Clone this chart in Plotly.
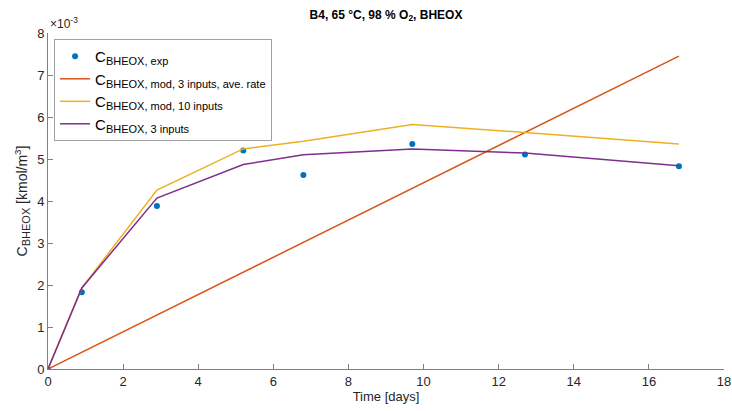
import plotly.graph_objects as go

# Time points (days)
t_exp = [0, 0.9, 2.9, 5.2, 6.8, 9.7, 12.7, 16.8]
# Measured BHEOX concentration [kmol/m3]
c_exp = [0.0, 1.83e-3, 3.88e-3, 5.20e-3, 4.62e-3, 5.36e-3, 5.11e-3, 4.83e-3]

# Model, 3 inputs, averaged rate (straight line)
t_avg = [0, 16.8]
c_avg = [0.0, 7.45e-3]

# Model, 10 inputs
t_mod10 = [0, 0.9, 2.9, 5.2, 6.8, 9.7, 12.7, 16.8]
c_mod10 = [0.0, 1.93e-3, 4.26e-3, 5.24e-3, 5.42e-3, 5.82e-3, 5.63e-3, 5.36e-3]

# Model, 3 inputs
t_mod3 = [0, 0.9, 2.9, 5.2, 6.8, 9.7, 12.7, 16.8]
c_mod3 = [0.0, 1.93e-3, 4.07e-3, 4.87e-3, 5.10e-3, 5.24e-3, 5.14e-3, 4.84e-3]

x_ticks = [0, 2, 4, 6, 8, 10, 12, 14, 16, 18]
y_ticks = [0, 1e-3, 2e-3, 3e-3, 4e-3, 5e-3, 6e-3, 7e-3, 8e-3]
y_ticktext = ["0", "1", "2", "3", "4", "5", "6", "7", "8"]

FONT = "Liberation Sans, Arial, sans-serif"
TXT = "#262626"
AX = "#808080"


def sub(s, px=11):
    """Subscript that stays close to the base text size."""
    return f"<sub><span style='font-size:{px}px'>{s}</span></sub>"


fig = go.Figure()
fig.add_trace(go.Scatter(
    x=t_exp, y=c_exp, mode="markers",
    marker=dict(color="#0072BD", size=6),
    name="C" + sub("BHEOX, exp")))
fig.add_trace(go.Scatter(
    x=t_avg, y=c_avg, mode="lines",
    line=dict(color="#D95319", width=1.5),
    name="C" + sub("BHEOX, mod, 3 inputs, ave. rate")))
fig.add_trace(go.Scatter(
    x=t_mod10, y=c_mod10, mode="lines",
    line=dict(color="#EDB120", width=1.5),
    name="C" + sub("BHEOX, mod, 10 inputs")))
fig.add_trace(go.Scatter(
    x=t_mod3, y=c_mod3, mode="lines",
    line=dict(color="#7E2F8E", width=1.5),
    name="C" + sub("BHEOX, 3 inputs")))

fig.update_layout(
    width=732, height=411,
    margin=dict(l=48, r=8, t=33, b=42, autoexpand=False),
    paper_bgcolor="white", plot_bgcolor="white",
    font=dict(family=FONT, size=13, color=TXT),
    title=dict(text="<b>B4, 65 °C, 98 % O<sub>2</sub>, BHEOX</b>",
               x=0.5273, xanchor="center", y=0.975, yanchor="top",
               font=dict(size=12, color="#000000")),
    showlegend=True,
    legend=dict(x=0.009, y=0.982, xanchor="left", yanchor="top",
                bgcolor="white", bordercolor="#a0a0a0", borderwidth=1,
                font=dict(size=15, color="#000000"),
                tracegroupgap=0, itemwidth=30),
    xaxis=dict(range=[0, 18], tickvals=x_ticks, ticks="inside",
               ticklen=5, tickcolor=AX, showline=True, linecolor=AX,
               linewidth=1, showgrid=False, zeroline=False, automargin=False,
               title=dict(text="Time [days]", standoff=2,
                          font=dict(size=13, color=TXT))),
    yaxis=dict(range=[0, 8e-3], tickvals=y_ticks, ticktext=y_ticktext,
               ticks="inside", ticklen=5, tickcolor=AX, showline=True,
               linecolor=AX, linewidth=1, showgrid=False, zeroline=False,
               automargin=False,
               title=dict(text="C" + sub("BHEOX", 11) + " [kmol/m<sup>3</sup>]",
                          standoff=6, font=dict(size=14, color=TXT))),
)

fig.add_annotation(
    text="×10<sup>-3</sup>", xref="paper", yref="paper",
    x=0.0, y=1.0, xanchor="left", yanchor="bottom",
    showarrow=False, font=dict(size=12, color=TXT))

fig.write_html("out.html")
